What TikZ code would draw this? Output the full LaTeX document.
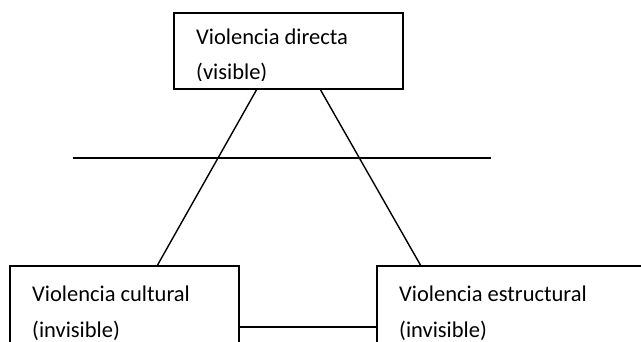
\documentclass[tikz,border=0pt]{standalone}
\usepackage{fontspec}
\setmainfont{Carlito}
\begin{document}
\begin{tikzpicture}[x=1pt,y=-1pt,
  box/.style={draw,line width=1.6pt,inner sep=0pt,outer sep=0pt},
  lbl/.style={anchor=base west,inner sep=0pt,font=\fontsize{22.5}{27}\selectfont},
  link/.style={line width=1.4pt}]
\useasboundingbox (0,0) rectangle (641,341);
\clip (0,0) rectangle (641,341);
% boxes
\draw[box] (174,13) rectangle (403,89);
\draw[box] (10,266) rectangle (239,380);
\draw[box] (377,266) rectangle (700,380);
\coordinate (topL) at (257,89);
\coordinate (topR) at (320,89);
\coordinate (cultT) at (157,266);
\coordinate (estT) at (421,266);
\coordinate (cultR) at (239,327);
\coordinate (estL) at (377,327);
\coordinate (hl) at (73,158);
\coordinate (hr) at (491,158);
% text
\begin{scope}
\clip (175,14) rectangle (402,80);
\node[lbl] (t1) at (196,44) {Violencia directa};
\node[lbl] (t2) at (196,79) {(visible)};
\end{scope}
\node[lbl] (c1) at (32,301) {Violencia cultural};
\node[lbl] (c2) at (32,337) {(invisible)};
\node[lbl] (e1) at (399,301) {Violencia estructural};
\node[lbl] (e2) at (399,337) {(invisible)};
% connectors
\draw[link] (topL) -- (cultT);
\draw[link] (topR) -- (estT);
\draw[link] (cultR) -- (estL);
\draw[link] (hl) -- (hr);
\end{tikzpicture}
\end{document}
